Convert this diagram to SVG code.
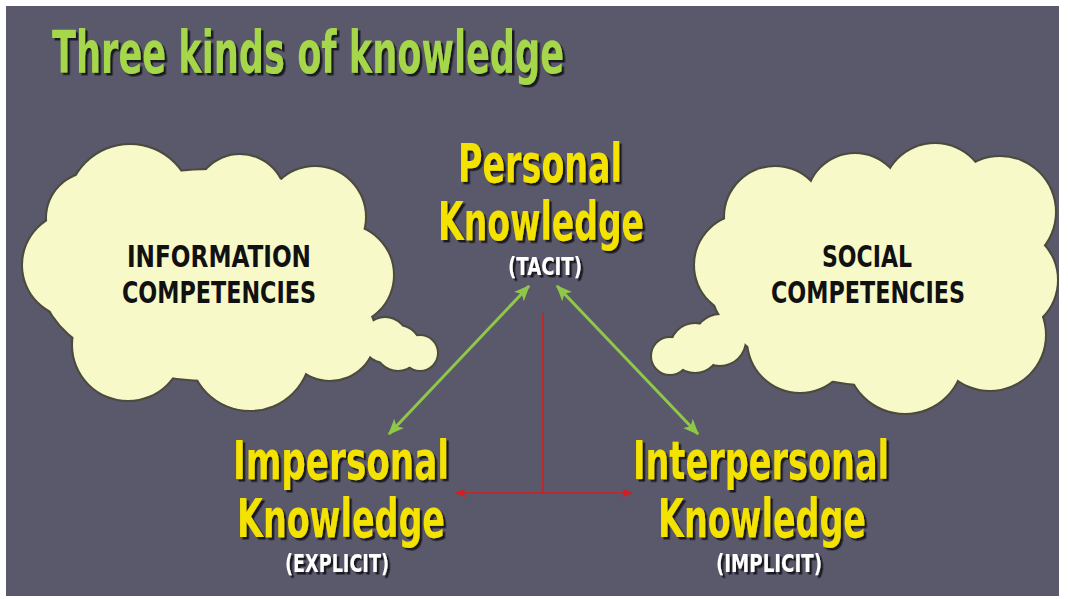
<svg xmlns="http://www.w3.org/2000/svg" xmlns:xlink="http://www.w3.org/1999/xlink" width="1068" height="599" viewBox="0 0 1068 599">
<style>
.title{font-family:"Liberation Sans Narrow","DejaVu Sans Condensed","Liberation Sans",sans-serif;font-weight:bold;fill:#a6d64a;}
.big{font-family:"Liberation Sans Narrow","DejaVu Sans Condensed","Liberation Sans",sans-serif;font-weight:bold;fill:#f4e200;font-size:54px;}
.sub{font-family:"Liberation Sans Narrow","DejaVu Sans Condensed","Liberation Sans",sans-serif;font-weight:bold;fill:#ffffff;font-size:25px;}
.cl{font-family:"Liberation Sans Narrow","DejaVu Sans Condensed","Liberation Sans",sans-serif;font-weight:bold;fill:#111111;font-size:31px;}
.g{stroke:#8fc849;stroke-width:3;fill:none;}
.r{stroke:#d41e1e;stroke-width:1.6;fill:none;}
</style>
<defs>
<filter id="sh" x="-10%" y="-20%" width="130%" height="150%">
<feDropShadow dx="2.5" dy="2.5" stdDeviation="0.6" flood-color="#15141c" flood-opacity="0.95"/>
</filter>
<marker id="ga" viewBox="0 0 12 10" refX="11" refY="5" markerWidth="16" markerHeight="14" markerUnits="userSpaceOnUse" orient="auto-start-reverse">
<path d="M0,0 L12,5 L0,10 L3,5 z" fill="#8fc849"/>
</marker>
<marker id="ra" viewBox="0 0 12 10" refX="11" refY="5" markerWidth="12" markerHeight="9" markerUnits="userSpaceOnUse" orient="auto-start-reverse">
<path d="M0,0 L12,5 L0,10 L3,5 z" fill="#d41e1e"/>
</marker>
<g id="cloudL">
<ellipse cx="210" cy="275" rx="170" ry="105"/>
<circle cx="130" cy="207" r="62"/>
<circle cx="240" cy="200" r="45"/>
<circle cx="315" cy="217" r="50"/>
<circle cx="343" cy="275" r="50"/>
<circle cx="75" cy="265" r="52"/>
<circle cx="92" cy="218" r="45"/>
<circle cx="250" cy="350" r="60"/>
<circle cx="128" cy="345" r="55"/>
<circle cx="330" cy="335" r="45"/>
<circle cx="385" cy="340" r="22"/>
<circle cx="398" cy="348" r="22"/>
<circle cx="420" cy="353" r="17"/>
</g>
<g id="cloudR">
<ellipse cx="880" cy="280" rx="170" ry="105"/>
<circle cx="775" cy="217" r="50"/>
<circle cx="855" cy="202" r="48"/>
<circle cx="935" cy="196" r="52"/>
<circle cx="1000" cy="212" r="55"/>
<circle cx="1005" cy="280" r="52"/>
<circle cx="745" cy="265" r="50"/>
<circle cx="905" cy="355" r="58"/>
<circle cx="800" cy="340" r="52"/>
<circle cx="990" cy="335" r="55"/>
<circle cx="720" cy="340" r="25"/>
<circle cx="695" cy="348" r="24"/>
<circle cx="670" cy="356" r="18"/>
</g>
</defs>

<rect x="0" y="0" width="1068" height="599" fill="#ffffff"/>
<rect x="6" y="6" width="1053" height="590" fill="#5a586b"/>

<g id="title" filter="url(#sh)">
<text class="title" x="52" y="73" font-size="58" textLength="512" lengthAdjust="spacingAndGlyphs">Three kinds of knowledge</text>
</g>

<g id="info-cloud">
<use xlink:href="#cloudL" fill="#4b4a3e" stroke="#4b4a3e" stroke-width="4"/>
<use xlink:href="#cloudL" fill="#f7f9c8"/>
<text class="cl" x="219" y="267" text-anchor="middle" textLength="184" lengthAdjust="spacingAndGlyphs">INFORMATION</text>
<text class="cl" x="219" y="303" text-anchor="middle" textLength="194" lengthAdjust="spacingAndGlyphs">COMPETENCIES</text>
</g>

<g id="social-cloud">
<use xlink:href="#cloudR" fill="#4b4a3e" stroke="#4b4a3e" stroke-width="4"/>
<use xlink:href="#cloudR" fill="#f7f9c8"/>
<text class="cl" x="867" y="267" text-anchor="middle" textLength="90" lengthAdjust="spacingAndGlyphs">SOCIAL</text>
<text class="cl" x="868" y="303" text-anchor="middle" textLength="194" lengthAdjust="spacingAndGlyphs">COMPETENCIES</text>
</g>

<g id="connectors">
<line class="g" x1="529" y1="286" x2="389" y2="434" marker-start="url(#ga)" marker-end="url(#ga)"/>
<line class="g" x1="557" y1="286" x2="698" y2="434" marker-start="url(#ga)" marker-end="url(#ga)"/>
<line class="r" x1="543" y1="313" x2="543" y2="493"/>
<line class="r" x1="456" y1="493" x2="632" y2="493" marker-start="url(#ra)" marker-end="url(#ra)"/>
</g>

<g id="personal" filter="url(#sh)">
<text class="big" x="540" y="182" text-anchor="middle" textLength="164" lengthAdjust="spacingAndGlyphs">Personal</text>
<text class="big" x="541" y="240" text-anchor="middle" textLength="206" lengthAdjust="spacingAndGlyphs">Knowledge</text>
<text class="sub" x="545" y="275" text-anchor="middle" textLength="74" lengthAdjust="spacingAndGlyphs">(TACIT)</text>
</g>

<g id="impersonal" filter="url(#sh)">
<text class="big" x="341" y="479" text-anchor="middle" textLength="216" lengthAdjust="spacingAndGlyphs">Impersonal</text>
<text class="big" x="341" y="537" text-anchor="middle" textLength="208" lengthAdjust="spacingAndGlyphs">Knowledge</text>
<text class="sub" x="337" y="572" text-anchor="middle" textLength="104" lengthAdjust="spacingAndGlyphs">(EXPLICIT)</text>
</g>

<g id="interpersonal" filter="url(#sh)">
<text class="big" x="761" y="479" text-anchor="middle" textLength="256" lengthAdjust="spacingAndGlyphs">Interpersonal</text>
<text class="big" x="762" y="537" text-anchor="middle" textLength="208" lengthAdjust="spacingAndGlyphs">Knowledge</text>
<text class="sub" x="769" y="572" text-anchor="middle" textLength="106" lengthAdjust="spacingAndGlyphs">(IMPLICIT)</text>
</g>
</svg>
